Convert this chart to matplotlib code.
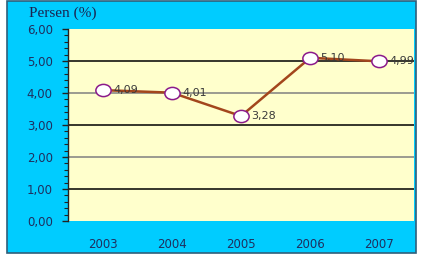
import matplotlib
matplotlib.use('Agg')
import matplotlib.pyplot as plt
from matplotlib.patches import Rectangle
from matplotlib.path import Path
from matplotlib.ticker import MultipleLocator, FixedLocator

tahun = ['2003', '2004', '2005', '2006', '2007']
persen = [4.09, 4.01, 3.28, 5.10, 4.99]
label_nilai = ['4,09', '4,01', '3,28', '5,10', '4,99']
y_ticks = [0, 1, 2, 3, 4, 5, 6]
y_labels = ['0,00', '1,00', '2,00', '3,00', '4,00', '5,00', '6,00']

W, H = 421, 261
fig = plt.figure(figsize=(W / 100, H / 100), dpi=100)
fig.patch.set_facecolor('white')

# cyan frame behind everything
fig.patches.append(Rectangle((7 / W, (H - 253) / H), (416 - 7) / W, (253 - 1) / H,
                             transform=fig.transFigure, facecolor='#00CCFF',
                             edgecolor='#2F5F7A', linewidth=1.2, zorder=-5))

ax = fig.add_axes([68 / W, (H - 221) / H, (414 - 68) / W, (221 - 29) / H])
ax.set_facecolor('#FFFFCC')

# slightly wide ellipse marker
circ = Path.unit_circle()
elips = Path(circ.vertices * [1.25, 1.0], circ.codes)

x = list(range(len(tahun)))
ax.plot(x, persen, color='#A3461C', linewidth=1.8, zorder=3)
ax.plot(x, persen, linestyle='none', marker=elips, markersize=11,
        markerfacecolor='white', markeredgecolor='#8B1A8B', markeredgewidth=1.1, zorder=4)

for xi, yi, lab in zip(x, persen, label_nilai):
    ax.annotate(lab, (xi, yi), xytext=(7.5, 0), textcoords='offset points',
                ha='left', va='center', fontsize=8, color='#3A3A3A',
                annotation_clip=False, clip_on=True, zorder=5)

ax.set_xlim(-0.5, 4.5)
ax.set_ylim(0, 6)

# alternating gridlines
for g in [1, 2, 3, 4, 5]:
    ax.axhline(g, color='black' if g % 2 else '#808080', linewidth=1.1, zorder=1)

ax.yaxis.set_major_locator(FixedLocator(y_ticks))
ax.set_yticklabels(y_labels)
ax.yaxis.set_minor_locator(MultipleLocator(0.2))
ax.tick_params(axis='y', which='major', length=4, width=1, color='#222222',
               labelsize=8.5, labelcolor='#1F2F5F', pad=7)
ax.tick_params(axis='y', which='minor', length=3, width=0.8, color='#222222')

ax.set_xticks(x)
ax.set_xticklabels(tahun)
ax.tick_params(axis='x', length=0, labelsize=8.5, labelcolor='#1F2F5F', pad=12)

for s in ['top', 'right', 'bottom']:
    ax.spines[s].set_visible(False)
ax.spines['left'].set_color('#222222')
ax.spines['left'].set_linewidth(1)

fig.text(29 / W, 1 - 13 / H, 'Persen (%)', fontsize=11, family='Liberation Serif',
         color='#1A2450', ha='left', va='center')

fig.savefig('out.png', dpi=100)
